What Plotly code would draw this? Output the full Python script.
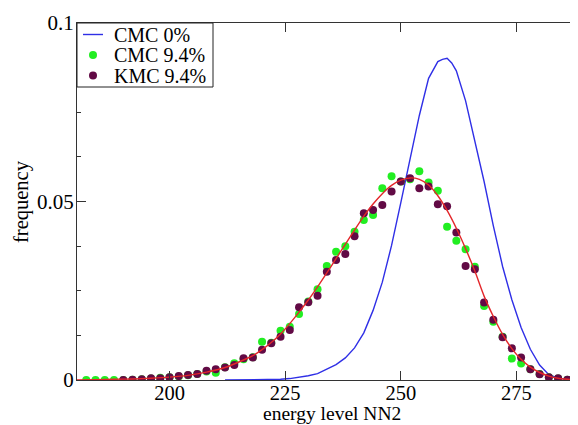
import plotly.graph_objects as go

# ---- data ----
cmc0_x = [212, 216, 220, 224, 226, 228, 230, 232, 234, 236, 238, 240, 242, 244, 246,
          248, 250, 252, 254, 256, 258, 259, 260, 261, 262, 264, 266, 268, 270, 272,
          274, 276, 278, 280, 282, 284, 286, 287]
cmc0_y = [0.0000, 0.0000, 0.0001, 0.0002, 0.0004, 0.0007, 0.0012, 0.0018, 0.0030, 0.0043,
          0.0062, 0.0090, 0.0132, 0.0195, 0.0274, 0.0377, 0.0497, 0.0619, 0.0741, 0.0845,
          0.0892, 0.0898, 0.0901, 0.0888, 0.0866, 0.0782, 0.0668, 0.0556, 0.0432, 0.0318,
          0.0225, 0.0147, 0.0086, 0.0042, 0.0015, 0.0005, 0.0002, 0.0001]

cmc94_x = [182, 184, 186, 188, 190, 192, 194, 196, 198, 200, 202, 204, 206, 208, 210,
           212, 214, 216, 218, 220, 222, 224, 226, 228, 230, 232, 234, 236, 238, 240,
           242, 244, 246, 248, 250, 252, 254, 256, 258, 260, 262, 264, 266, 268, 270,
           272, 274, 276, 278, 280, 282, 284, 286]
cmc94_y = [0.0000, 0.0000, 0.0000, 0.0000, 0.0000, 0.0001, 0.0002, 0.0004, 0.0006, 0.0008,
           0.0010, 0.0013, 0.0017, 0.0024, 0.0020, 0.0036, 0.0047, 0.0058, 0.0064, 0.0107,
           0.0104, 0.0138, 0.0149, 0.0185, 0.0220, 0.0254, 0.0319, 0.0359, 0.0375, 0.0415,
           0.0448, 0.0462, 0.0537, 0.0571, 0.0556, 0.0562, 0.0585, 0.0553, 0.0530, 0.0429,
           0.0390, 0.0366, 0.0317, 0.0207, 0.0163, 0.0121, 0.0060, 0.0046, 0.0030, 0.0017,
           0.0008, 0.0004, 0.0001]

kmc94_x = [190, 192, 194, 196, 198, 200, 202, 204, 206, 208, 210, 212, 214, 216, 218,
           220, 222, 224, 226, 228, 230, 232, 234, 236, 238, 240, 242, 244, 246, 248,
           250, 252, 254, 256, 258, 260, 262, 264, 266, 268, 270, 272, 274, 276, 278,
           280, 282, 284, 286]
kmc94_y = [0.0000, 0.0001, 0.0002, 0.0005, 0.0005, 0.0008, 0.0011, 0.0014, 0.0017, 0.0026,
           0.0030, 0.0035, 0.0042, 0.0061, 0.0063, 0.0085, 0.0103, 0.0121, 0.0140, 0.0204,
           0.0218, 0.0236, 0.0303, 0.0336, 0.0353, 0.0403, 0.0467, 0.0476, 0.0490, 0.0528,
           0.0556, 0.0565, 0.0537, 0.0542, 0.0492, 0.0487, 0.0413, 0.0319, 0.0310, 0.0217,
           0.0169, 0.0120, 0.0089, 0.0063, 0.0030, 0.0016, 0.0008, 0.0005, 0.0001]

fit_x = [180, 184, 188, 192, 196, 200, 204, 208, 212, 216, 218, 220, 222, 224, 226, 228,
         230, 232, 234, 236, 238, 240, 242, 244, 246, 248, 250, 252, 254, 256, 258, 260,
         262, 264, 266, 268, 270, 272, 274, 276, 278, 280, 282, 284, 286, 287]
fit_y = [0.0000, 0.0001, 0.0002, 0.0003, 0.0005, 0.0008, 0.0013, 0.0022, 0.0035, 0.0056,
         0.0068, 0.0085, 0.0105, 0.0129, 0.0158, 0.0190, 0.0224, 0.0261, 0.0300, 0.0340,
         0.0380, 0.0420, 0.0459, 0.0493, 0.0522, 0.0545, 0.0560, 0.0566, 0.0562, 0.0546,
         0.0516, 0.0475, 0.0425, 0.0368, 0.0305, 0.0235, 0.0178, 0.0128, 0.0088, 0.0058,
         0.0036, 0.0021, 0.0011, 0.0005, 0.0002, 0.0001]

x_ticks = [200, 225, 250, 275]
y_ticks = [0, 0.05, 0.1]
y_tick_text = ["0", "0.05", "0.1"]
legend_names = ["CMC 0%", "CMC 9.4%", "KMC 9.4%"]

BLUE = "#2f2fe6"
GREEN = "#22ee22"
MAROON = "#620a45"
RED = "#e3262a"
FONT = "Liberation Serif"

fig = go.Figure()
fig.add_trace(go.Scatter(x=cmc0_x, y=cmc0_y, mode="lines", name=legend_names[0],
                         line=dict(color=BLUE, width=1.4)))
fig.add_trace(go.Scatter(x=cmc94_x, y=cmc94_y, mode="markers", name=legend_names[1],
                         marker=dict(color=GREEN, size=8, line=dict(width=0))))
fig.add_trace(go.Scatter(x=kmc94_x, y=kmc94_y, mode="markers", name=legend_names[2],
                         marker=dict(color=MAROON, size=8, line=dict(width=0))))
fig.add_trace(go.Scatter(x=fit_x, y=fit_y, mode="lines", name="fit", showlegend=False,
                         line=dict(color=RED, width=1.4, shape="spline", smoothing=0.6)))

# the page body adds an 8px offset, so the figure is sized to fill the rest
OFF = 8
W, H = 578 - OFF, 425 - OFF
ML, MR, MT, MB = 77 - OFF, 0, 23 - OFF, 45
pw, ph = W - ML - MR, H - MT - MB


def px_x(p):
    return (p - OFF - ML) / pw


def px_y(p):
    return 1 - (p - OFF - MT) / ph


# legend drawn as a boxed key in the upper-left corner
shapes = [
    dict(type="rect", xref="paper", yref="paper", x0=px_x(77), x1=px_x(213),
         y0=px_y(87), y1=px_y(23), line=dict(color="#222222", width=1),
         fillcolor="white", layer="above"),
    dict(type="line", xref="paper", yref="paper", x0=px_x(83), x1=px_x(103),
         y0=px_y(34.5), y1=px_y(34.5), line=dict(color=BLUE, width=1.4), layer="above"),
]
for cy, col in [(55, GREEN), (75.5, MAROON)]:
    shapes.append(dict(type="circle", xref="paper", yref="paper",
                       xsizemode="pixel", ysizemode="pixel",
                       xanchor=px_x(93), yanchor=px_y(cy),
                       x0=-4, x1=4, y0=-4, y1=4,
                       fillcolor=col, line=dict(width=0), layer="above"))

annotations = []
for cy, name in zip([34.5, 55, 75.5], legend_names):
    annotations.append(dict(x=px_x(112), y=px_y(cy), xref="paper", yref="paper",
                            text=name, showarrow=False, xanchor="left", yanchor="middle",
                            font=dict(family=FONT, size=20, color="black")))
annotations.append(dict(x=px_x(332), y=px_y(413.5), xref="paper", yref="paper",
                        text="energy level NN2", showarrow=False, borderpad=0,
                        xanchor="center", yanchor="middle",
                        font=dict(family=FONT, size=19.5, color="black")))
annotations.append(dict(x=px_x(21), y=px_y(202), xref="paper", yref="paper",
                        text="frequency", showarrow=False, textangle=-90,
                        xanchor="center", yanchor="middle",
                        font=dict(family=FONT, size=20.5, color="black")))

fig.update_layout(
    width=W, height=H,
    margin=dict(l=ML, r=MR, t=MT, b=MB, pad=0),
    paper_bgcolor="white", plot_bgcolor="white",
    showlegend=False,
    font=dict(family=FONT, size=20, color="black"),
    shapes=shapes, annotations=annotations,
    xaxis=dict(range=[180, 288.3], tickvals=x_ticks, ticks="inside", ticklen=9,
               tickcolor="#333333", showline=True, linecolor="#333333", linewidth=1,
               mirror="ticks", showgrid=False, zeroline=False, ticklabelstandoff=-6,
               tickfont=dict(family=FONT, size=20.5, color="black")),
    yaxis=dict(range=[0, 0.1], tickvals=y_ticks, ticktext=y_tick_text, ticks="inside",
               ticklen=9, tickcolor="#333333", showline=True, linecolor="#333333",
               linewidth=1, mirror=False, showgrid=False, zeroline=False,
               ticklabelstandoff=-2,
               minor=dict(dtick=0.0125, ticks="inside", ticklen=4, tickcolor="#333333"),
               tickfont=dict(family=FONT, size=21, color="black")),
)

fig.write_html("out.html")
